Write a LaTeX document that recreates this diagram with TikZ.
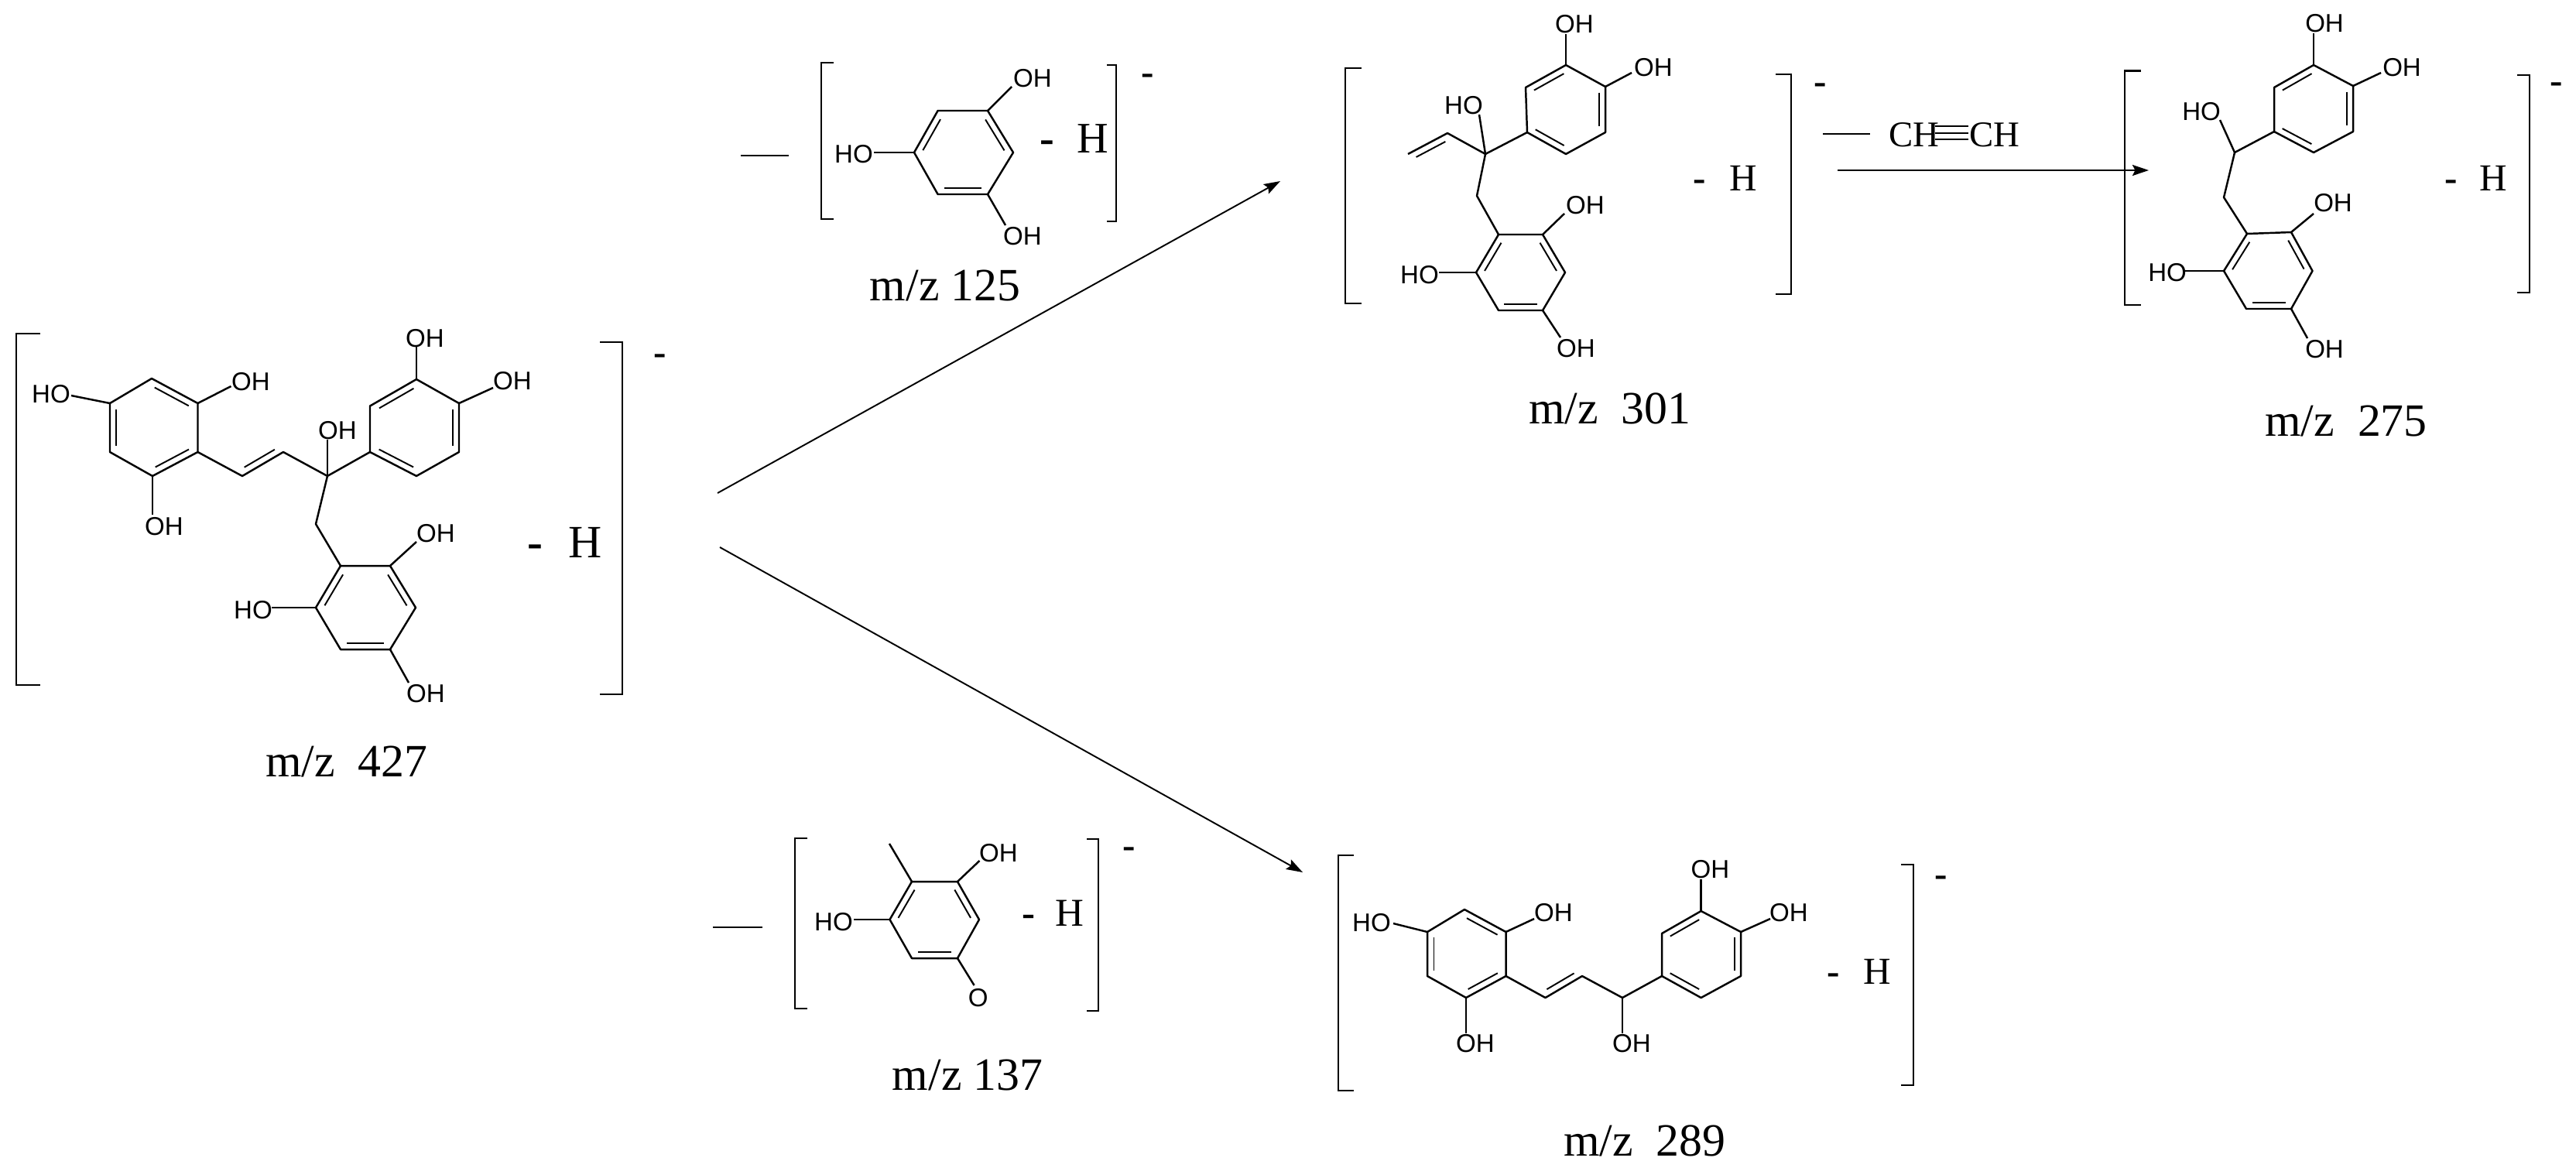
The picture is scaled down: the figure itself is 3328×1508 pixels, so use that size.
\documentclass[tikz,border=0pt]{standalone}
\usepackage{fontspec}
\setmainfont{Liberation Serif}
\newfontfamily\atomfont{Liberation Sans}
\usetikzlibrary{calc,arrows.meta}

\tikzset{
  bond/.style={line width=0.7pt, line join=round},
  innerbond/.style={line width=0.55pt},
  bracket/.style={line width=0.6pt},
  loss/.style={line width=0.35pt},
  flow/.style={line width=0.55pt, -{Stealth[length=6pt,width=4pt,inset=1pt]}},
  atom/.style={font=\atomfont\fontsize{9.4}{9.4}\selectfont, inner sep=0pt},
  mzlabel/.style={font=\fontsize{17}{17}\selectfont, inner sep=0pt, anchor=base},
  minus/.style={font=\bfseries\fontsize{14}{14}\selectfont, inner sep=0pt, anchor=base},
  hlab/.style={font=\fontsize{#1}{#1}\selectfont, inner sep=0pt, anchor=base east}
}

%% second line of a double bond, on the right of the way from #1 to #2
\newcommand{\dbl}[2]{\draw[innerbond] ($(#1)!.13!(#2)!2.4pt!-90:(#2)$) -- ($(#2)!.13!(#1)!2.4pt!90:(#1)$);}

\begin{document}
\begin{tikzpicture}[x=0.01cm,y=-0.01cm]
\useasboundingbox (0,0) rectangle (3328,1508);

%%% m/z 427
%% vertices
\coordinate (a1) at (196,489); \coordinate (a2) at (255.5,521); \coordinate (a3) at (255.5,584);
\coordinate (a4) at (197,615); \coordinate (a5) at (142,584); \coordinate (a6) at (142,521);
\coordinate (a7) at (313,615); \coordinate (a8) at (366,584); \coordinate (a9) at (423,615);
\coordinate (a10) at (538,490); \coordinate (a11) at (593,521); \coordinate (a12) at (593,584);
\coordinate (a13) at (538,615); \coordinate (a14) at (478,584); \coordinate (a15) at (478,524.5);
\coordinate (a16) at (408,677);
\coordinate (a17) at (440,731); \coordinate (a18) at (504,731); \coordinate (a19) at (537,785);
\coordinate (a20) at (504,839); \coordinate (a21) at (440,839); \coordinate (a22) at (408,785);
%% bond ends at the labels
\coordinate (ae1) at (298.5,499); \coordinate (ae2) at (92,511); \coordinate (ae3) at (197,665);
\coordinate (ae4) at (423,568); \coordinate (ae5) at (538,447); \coordinate (ae6) at (637,501);
\coordinate (ae7) at (538,700); \coordinate (ae8) at (351,785); \coordinate (ae9) at (528,882);
%% labels
\node[atom] (al1) at (324,493) {OH};
\node[atom] (al2) at (66,509) {HO};
\node[atom] (al3) at (212,680) {OH};
\node[atom] (al4) at (436,556) {OH};
\node[atom] (al5) at (549,437) {OH};
\node[atom] (al6) at (662,492) {OH};
\node[atom] (al7) at (563,689) {OH};
\node[atom] (al8) at (327,788) {HO};
\node[atom] (al9) at (550,896) {OH};
%% bonds
\draw[bond] (a1) -- (a2) -- (a3) -- (a4) -- (a5) -- (a6) -- cycle;
\draw[bond] (a10) -- (a11) -- (a12) -- (a13) -- (a14) -- (a15) -- cycle;
\draw[bond] (a17) -- (a18) -- (a19) -- (a20) -- (a21) -- (a22) -- cycle;
\draw[bond] (a3) -- (a7) -- (a8) -- (a9) -- (a14);
\draw[bond] (a9) -- (a16) -- (a17);
\draw[bond] (a2) -- (ae1); \draw[bond] (a6) -- (ae2); \draw[bond] (a4) -- (ae3);
\draw[bond] (a9) -- (ae4); \draw[bond] (a10) -- (ae5); \draw[bond] (a11) -- (ae6);
\draw[bond] (a18) -- (ae7); \draw[bond] (a22) -- (ae8); \draw[bond] (a20) -- (ae9);
\dbl{a1}{a2} \dbl{a3}{a4} \dbl{a5}{a6} \dbl{a8}{a7}
\dbl{a15}{a10} \dbl{a11}{a12} \dbl{a13}{a14}
\dbl{a18}{a19} \dbl{a20}{a21} \dbl{a22}{a17}
%% brackets and text
\draw[bracket] (52,431) -- (21,431) -- (21,885) -- (52,885);
\draw[bracket] (775,442) -- (804,442) -- (804,897) -- (775,897);
\node[minus] (am) at (852.5,471) {-};
\node[hlab=17] (ah) at (778,720) {{\bfseries -}\hspace{9.2pt}H};
\node[mzlabel] (amz) at (448,1003) {m/z\ \ 427};

%%% m/z 125
\coordinate (b1) at (1211.6,143); \coordinate (b2) at (1276,143); \coordinate (b3) at (1309,197);
\coordinate (b4) at (1276,251); \coordinate (b5) at (1211.6,251); \coordinate (b6) at (1181,197);
\coordinate (be1) at (1307,112); \coordinate (be2) at (1129,197); \coordinate (be3) at (1299,291);
\node[atom] (bl1) at (1334,101) {OH};
\node[atom] (bl2) at (1103,199) {HO};
\node[atom] (bl3) at (1321,305) {OH};
\draw[bond] (b1) -- (b2) -- (b3) -- (b4) -- (b5) -- (b6) -- cycle;
\draw[bond] (b2) -- (be1); \draw[bond] (b6) -- (be2); \draw[bond] (b4) -- (be3);
\dbl{b6}{b1} \dbl{b2}{b3} \dbl{b4}{b5}
\draw[bracket] (1077,81) -- (1061,81) -- (1061,283) -- (1077,283);
\draw[bracket] (1430,84) -- (1442,84) -- (1442,286) -- (1430,286);
\draw[loss] (957,201) -- (1019,201);
\node[minus] (bm) at (1483,109) {-};
\node[hlab=16] (bh) at (1433,197) {{\bfseries -}\hspace{8.5pt}H};
\node[mzlabel] (bmz) at (1221,388) {m/z 125};

%%% m/z 301
\coordinate (c1) at (2023,84); \coordinate (c2) at (2074,112); \coordinate (c3) at (2074,171);
\coordinate (c4) at (2023,199); \coordinate (c5) at (1973,171); \coordinate (c6) at (1971,113);
\coordinate (c7) at (1919,199); \coordinate (c8) at (1870,172); \coordinate (c9) at (1819,199);
\coordinate (c10) at (1908,253);
\coordinate (c11) at (1936,303); \coordinate (c12) at (1993,303); \coordinate (c13) at (2022,352);
\coordinate (c14) at (1993,401); \coordinate (c15) at (1936,401); \coordinate (c16) at (1907,352);
\coordinate (ce1) at (2023,44); \coordinate (ce2) at (2108,94); \coordinate (ce3) at (1911,148);
\coordinate (ce4) at (2021,276); \coordinate (ce5) at (1859,352); \coordinate (ce6) at (2016,436);
\node[atom] (cl1) at (2034,31) {OH};
\node[atom] (cl2) at (2136,87) {OH};
\node[atom] (cl3) at (1891,136) {HO};
\node[atom] (cl4) at (2048,265) {OH};
\node[atom] (cl5) at (1834,355) {HO};
\node[atom] (cl6) at (2036,450) {OH};
\draw[bond] (c1) -- (c2) -- (c3) -- (c4) -- (c5) -- (c6) -- cycle;
\draw[bond] (c11) -- (c12) -- (c13) -- (c14) -- (c15) -- (c16) -- cycle;
\draw[bond] (c9) -- (c8) -- (c7) -- (c5);
\draw[bond] (c7) -- (c10) -- (c11);
\draw[bond] (c1) -- (ce1); \draw[bond] (c2) -- (ce2); \draw[bond] (c7) -- (ce3);
\draw[bond] (c12) -- (ce4); \draw[bond] (c16) -- (ce5); \draw[bond] (c14) -- (ce6);
\dbl{c6}{c1} \dbl{c2}{c3} \dbl{c4}{c5} \dbl{c9}{c8}
\dbl{c12}{c13} \dbl{c14}{c15} \dbl{c16}{c11}
\draw[bracket] (1759,88) -- (1738,88) -- (1738,392) -- (1759,392);
\draw[bracket] (2294,96) -- (2314,96) -- (2314,380) -- (2294,380);
\node[minus] (cm) at (2351.5,121) {-};
\node[hlab=14] (ch) at (2271,246.5) {{\bfseries -}\hspace{8.9pt}H};
\node[mzlabel] (cmz) at (2080,547) {m/z\ \ 301};

%%% m/z 275
\coordinate (d1) at (2989,84); \coordinate (d2) at (3040,111); \coordinate (d3) at (3040,170);
\coordinate (d4) at (2989,197); \coordinate (d5) at (2938,170); \coordinate (d6) at (2938,113);
\coordinate (d7) at (2887,197); \coordinate (d8) at (2873,255);
\coordinate (d9) at (2903,302); \coordinate (d10) at (2960,300); \coordinate (d11) at (2987.5,350);
\coordinate (d12) at (2960,399); \coordinate (d13) at (2902,399); \coordinate (d14) at (2873,350);
\coordinate (de1) at (2989,43); \coordinate (de2) at (3076,94); \coordinate (de3) at (2868,155);
\coordinate (de4) at (2989,276); \coordinate (de5) at (2823,350); \coordinate (de6) at (2981,437);
\node[atom] (dl1) at (3003,30) {OH};
\node[atom] (dl2) at (3103,87) {OH};
\node[atom] (dl3) at (2844,144) {HO};
\node[atom] (dl4) at (3014,262) {OH};
\node[atom] (dl5) at (2800,352) {HO};
\node[atom] (dl6) at (3003,451) {OH};
\draw[bond] (d1) -- (d2) -- (d3) -- (d4) -- (d5) -- (d6) -- cycle;
\draw[bond] (d9) -- (d10) -- (d11) -- (d12) -- (d13) -- (d14) -- cycle;
\draw[bond] (d5) -- (d7) -- (d8) -- (d9);
\draw[bond] (d1) -- (de1); \draw[bond] (d2) -- (de2); \draw[bond] (d7) -- (de3);
\draw[bond] (d10) -- (de4); \draw[bond] (d14) -- (de5); \draw[bond] (d12) -- (de6);
\dbl{d6}{d1} \dbl{d2}{d3} \dbl{d4}{d5}
\dbl{d10}{d11} \dbl{d12}{d13} \dbl{d14}{d9}
\draw[bracket] (2766,91.5) -- (2745,91.5) -- (2745,394) -- (2766,394);
\draw[bracket] (3252,97) -- (3268,97) -- (3268,378) -- (3252,378);
\node[minus] (dm) at (3303,120) {-};
\node[hlab=14] (dh) at (3240,246) {{\bfseries -}\hspace{8.3pt}H};
\node[mzlabel] (dmz) at (3031,563) {m/z\ \ 275};

%%% m/z 137
\coordinate (e1) at (1178,1139); \coordinate (e2) at (1237,1139); \coordinate (e3) at (1265,1188);
\coordinate (e4) at (1237,1238); \coordinate (e5) at (1178,1238); \coordinate (e6) at (1149.5,1188);
\coordinate (e7) at (1149,1090);
\coordinate (ee1) at (1265.5,1112); \coordinate (ee2) at (1103,1188); \coordinate (ee3) at (1258.6,1273);
\node[atom] (el1) at (1290,1102) {OH};
\node[atom] (el2) at (1077,1191) {HO};
\node[atom] (el3) at (1263.6,1289) {O};
\draw[bond] (e1) -- (e2) -- (e3) -- (e4) -- (e5) -- (e6) -- cycle;
\draw[bond] (e1) -- (e7);
\draw[bond] (e2) -- (ee1); \draw[bond] (e6) -- (ee2); \draw[bond] (e4) -- (ee3);
\dbl{e6}{e1} \dbl{e2}{e3} \dbl{e4}{e5}
\draw[bracket] (1043,1083) -- (1027.4,1083) -- (1027.4,1303) -- (1043,1303);
\draw[bracket] (1404,1084) -- (1418.6,1084) -- (1418.6,1306) -- (1404,1306);
\draw[bracket] (921,1198) -- (985,1198);
\node[minus] (em) at (1459,1108) {-};
\node[hlab=14.5] (eh) at (1400.6,1196) {{\bfseries -}\hspace{7.3pt}H};
\node[mzlabel] (emz) at (1250,1408) {m/z 137};

%%% m/z 289
\coordinate (f1) at (1892,1175); \coordinate (f2) at (1945.5,1204); \coordinate (f3) at (1945.5,1261);
\coordinate (f4) at (1894,1289); \coordinate (f5) at (1844,1261); \coordinate (f6) at (1844,1204);
\coordinate (f7) at (1996.5,1289); \coordinate (f8) at (2044,1261); \coordinate (f9) at (2096,1289);
\coordinate (f10) at (2197.6,1177); \coordinate (f11) at (2249,1204); \coordinate (f12) at (2249,1261);
\coordinate (f13) at (2197.6,1289); \coordinate (f14) at (2147,1261); \coordinate (f15) at (2147,1206);
\coordinate (fe1) at (1982,1187); \coordinate (fe2) at (1800,1193); \coordinate (fe3) at (1894,1335);
\coordinate (fe4) at (2096,1335); \coordinate (fe5) at (2197.6,1136); \coordinate (fe6) at (2287,1187);
\node[atom] (fl1) at (2007,1179) {OH};
\node[atom] (fl2) at (1772,1192) {HO};
\node[atom] (fl3) at (1906,1348) {OH};
\node[atom] (fl4) at (2108,1348) {OH};
\node[atom] (fl5) at (2209.5,1123) {OH};
\node[atom] (fl6) at (2311,1179) {OH};
\draw[bond] (f1) -- (f2) -- (f3) -- (f4) -- (f5) -- (f6) -- cycle;
\draw[bond] (f10) -- (f11) -- (f12) -- (f13) -- (f14) -- (f15) -- cycle;
\draw[bond] (f3) -- (f7) -- (f8) -- (f9) -- (f14);
\draw[bond] (f2) -- (fe1); \draw[bond] (f6) -- (fe2); \draw[bond] (f4) -- (fe3);
\draw[bond] (f9) -- (fe4); \draw[bond] (f10) -- (fe5); \draw[bond] (f11) -- (fe6);
\dbl{f1}{f2} \dbl{f3}{f4} \dbl{f5}{f6} \dbl{f8}{f7}
\dbl{f15}{f10} \dbl{f11}{f12} \dbl{f13}{f14}
\draw[bracket] (1749,1105) -- (1729,1105) -- (1729,1409) -- (1749,1409);
\draw[bracket] (2456,1117) -- (2472,1117) -- (2472,1402) -- (2456,1402);
\node[minus] (fm) at (2507.6,1145) {-};
\node[hlab=14] (fh) at (2443.6,1271) {{\bfseries -}\hspace{8.6pt}H};
\node[mzlabel] (fmz) at (2125,1493) {m/z\ \ 289};

%%% acetylene loss
\node[font=\fontsize{13.3}{13.3}\selectfont, inner sep=0pt] (ch1) at (2472.5,174.5) {CH};
\node[font=\fontsize{13.3}{13.3}\selectfont, inner sep=0pt] (ch2) at (2576.5,174.5) {CH};
\draw[innerbond] ([xshift=-1.7pt,yshift=3.3pt]ch1.east) -- ([yshift=3.3pt]ch2.west);
\draw[innerbond] ([xshift=-1.7pt,yshift=0.7pt]ch1.east) -- ([yshift=0.7pt]ch2.west);
\draw[innerbond] ([xshift=-1.7pt,yshift=-1.6pt]ch1.east) -- ([yshift=-1.6pt]ch2.west);
\draw[loss] (2355,173) -- (2416,173);

%%% arrows
\coordinate (s1) at (927,637); \coordinate (t1) at (1654,234);
\coordinate (s2) at (930,707); \coordinate (t2) at (1683,1127);
\coordinate (s3) at (2374,220); \coordinate (t3) at (2776,220);
\draw[flow] (s1) -- (t1);
\draw[flow] (s2) -- (t2);
\draw[flow] (s3) -- (t3);
\end{tikzpicture}
\end{document}
